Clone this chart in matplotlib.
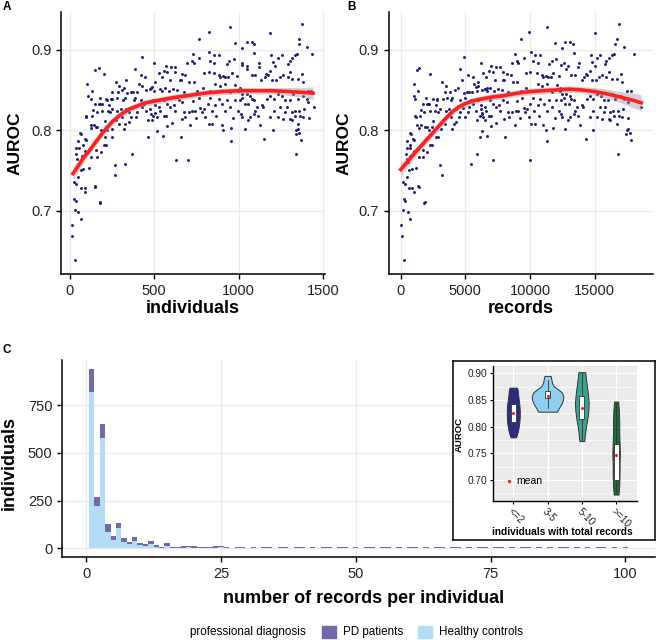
# -*- coding: utf-8 -*-
"""
AUROC vs training size (A, B) and records-per-individual histogram (C)
"""
import matplotlib.pyplot as plt
from matplotlib.patches import Patch
import numpy as np

plt.rcParams.update({'font.family': ['Liberation Sans', 'DejaVu Sans'],
                     'axes.linewidth': 1.1,
                     'xtick.major.width': 1.0,
                     'ytick.major.width': 1.0,
                     'xtick.major.size': 3.5,
                     'ytick.major.size': 3.5})

# ------- data: (individuals, records, AUROC) per model
models = [
    (32, 250, 0.638), (16, 60, 0.668), (16, 40, 0.682), (65, 750, 0.690), (52, 600, 0.698),
    (32, 150, 0.701), (26, 250, 0.714), (36, 300, 0.712), (178, 1850, 0.711), (178, 1800, 0.709),
    (26, 200, 0.735), (40, 350, 0.733), (65, 650, 0.728), (91, 900, 0.728), (89, 1000, 0.723),
    (150, 1350, 0.731), (150, 1450, 0.729), (52, 450, 0.742), (115, 1200, 0.753), (268, 3200, 0.744),
    (268, 3000, 0.757), (327, 5450, 0.758), (371, 5900, 0.770), (40, 500, 0.778), (56, 700, 0.778),
    (46, 450, 0.764), (59, 600, 0.760), (65, 650, 0.750), (79, 850, 0.752), (89, 1000, 0.774),
    (95, 1050, 0.788), (124, 1400, 0.767), (154, 1700, 0.775), (160, 1750, 0.767), (118, 1300, 0.777),
    (65, 800, 0.795), (59, 700, 0.796), (91, 950, 0.789), (124, 1250, 0.806), (128, 1400, 0.803),
    (144, 1550, 0.807), (154, 1900, 0.804), (164, 2000, 0.804), (99, 1100, 0.817), (130, 1500, 0.817),
    (148, 1700, 0.833), (180, 2100, 0.832), (190, 2300, 0.824), (209, 2500, 0.811), (213, 2400, 0.804),
    (188, 2200, 0.800), (219, 2600, 0.800), (209, 2700, 0.792), (203, 2250, 0.781), (217, 2450, 0.781),
    (188, 2000, 0.773), (249, 2900, 0.791), (249, 3100, 0.802), (223, 2800, 0.838), (227, 2650, 0.824),
    (253, 3000, 0.826), (247, 3250, 0.839), (249, 3400, 0.848), (282, 3600, 0.840), (272, 3300, 0.812),
    (292, 3450, 0.808), (282, 3500, 0.824), (302, 3700, 0.826), (308, 3900, 0.816), (321, 4000, 0.802),
    (327, 4100, 0.808), (351, 4300, 0.810), (361, 4500, 0.816), (331, 4250, 0.826), (351, 4600, 0.822),
    (371, 4800, 0.828), (391, 5000, 0.816), (400, 5200, 0.822), (420, 5400, 0.837), (440, 5600, 0.833),
    (466, 5900, 0.812), (466, 6100, 0.791), (430, 5300, 0.829), (450, 5800, 0.824), (473, 6200, 0.826),
    (479, 6300, 0.820), (485, 6500, 0.812), (276, 3200, 0.860), (292, 3500, 0.855), (288, 3800, 0.847),
    (308, 4200, 0.850), (321, 4400, 0.853), (331, 4700, 0.862), (341, 4900, 0.846), (361, 5100, 0.847),
    (377, 5300, 0.847), (381, 4600, 0.838), (387, 5000, 0.840), (327, 4000, 0.840), (313, 3900, 0.838),
    (400, 5500, 0.848), (410, 5700, 0.857), (430, 6000, 0.855), (450, 6300, 0.850), (473, 6500, 0.851),
    (479, 6700, 0.853), (426, 4900, 0.891), (387, 4600, 0.876), (424, 5200, 0.868), (446, 5600, 0.866),
    (174, 1450, 0.877), (148, 1250, 0.875), (203, 2300, 0.870), (105, 1000, 0.857), (130, 1350, 0.849),
    (111, 1050, 0.842), (124, 1100, 0.839), (178, 1950, 0.840), (174, 2050, 0.833), (213, 2500, 0.839),
    (233, 2750, 0.831), (237, 2900, 0.822), (253, 2800, 0.839), (99, 1150, 0.816), (138, 1600, 0.825),
    (160, 1800, 0.822), (190, 2150, 0.832), (71, 700, 0.768), (40, 400, 0.770), (79, 750, 0.782),
    (52, 500, 0.786),
    (763, 9300, 0.914), (823, 9900, 0.922), (951, 11300, 0.928), (980, 11900, 0.909), (497, 6200, 0.884),
    (572, 7000, 0.880), (600, 7400, 0.879), (625, 7700, 0.878), (556, 6800, 0.873), (527, 6400, 0.871),
    (546, 6600, 0.866), (576, 7100, 0.872), (596, 7300, 0.862), (625, 7900, 0.872), (665, 8200, 0.870),
    (680, 8500, 0.869), (655, 7900, 0.862), (694, 8600, 0.884), (724, 9000, 0.886), (734, 9100, 0.883),
    (763, 9500, 0.890), (730, 8800, 0.895), (823, 10100, 0.897), (852, 10400, 0.893), (882, 10800, 0.893),
    (832, 10200, 0.886), (852, 10600, 0.883), (931, 11500, 0.882), (941, 11700, 0.886), (970, 12000, 0.888),
    (793, 9700, 0.871), (823, 10000, 0.872), (852, 10500, 0.871), (882, 10900, 0.869), (892, 11000, 0.866),
    (907, 11200, 0.867), (921, 11400, 0.866), (937, 11600, 0.866), (961, 11800, 0.871), (990, 12200, 0.867),
    (487, 5800, 0.854), (507, 6000, 0.860), (533, 6500, 0.851), (547, 6700, 0.849), (566, 6900, 0.853),
    (586, 7200, 0.849), (612, 7500, 0.851), (635, 7800, 0.850), (659, 8000, 0.862), (675, 8300, 0.847),
    (704, 8700, 0.860), (734, 9000, 0.860), (754, 9300, 0.849), (789, 9700, 0.853), (829, 10200, 0.849),
    (862, 10600, 0.858), (892, 10900, 0.855), (921, 11300, 0.858), (951, 11700, 0.847), (980, 12100, 0.856),
    (994, 12300, 0.849), (493, 6000, 0.837), (507, 6200, 0.831), (527, 6500, 0.829), (537, 6600, 0.824),
    (507, 6300, 0.821), (493, 6100, 0.817), (517, 6400, 0.816), (556, 6800, 0.818), (572, 7000, 0.817),
    (560, 6900, 0.838), (576, 7100, 0.833), (596, 7400, 0.829), (619, 7600, 0.831), (625, 7700, 0.824),
    (645, 7900, 0.837), (665, 8200, 0.835), (675, 8300, 0.822), (685, 8400, 0.816), (704, 8600, 0.822),
    (724, 8900, 0.824), (744, 9100, 0.824), (730, 9000, 0.836), (763, 9400, 0.840), (773, 9500, 0.827),
    (783, 9600, 0.822), (793, 9800, 0.826), (803, 9900, 0.816), (817, 10000, 0.832), (832, 10200, 0.840),
    (842, 10300, 0.824), (862, 10600, 0.831), (882, 10800, 0.839), (901, 11100, 0.833), (921, 11300, 0.824),
    (931, 11500, 0.837), (951, 11700, 0.829), (967, 11900, 0.815), (980, 12000, 0.838), (994, 12200, 0.824),
    (868, 10700, 0.817), (823, 10100, 0.808), (842, 10400, 0.808), (901, 11000, 0.806), (907, 11200, 0.800),
    (955, 11800, 0.803), (957, 11300, 0.786), (517, 6300, 0.799), (552, 6700, 0.793), (576, 7000, 0.805),
    (606, 7400, 0.809), (659, 8100, 0.791), (665, 8000, 0.814), (714, 8800, 0.806), (631, 7150, 0.763),
    (698, 10000, 0.763), (750, 9200, 0.815), (497, 5900, 0.849),
    (1377, 16900, 0.932), (1186, 15000, 0.921), (1357, 16700, 0.914), (1357, 16600, 0.907), (1402, 17300, 0.903),
    (1048, 12700, 0.910), (1077, 13100, 0.910), (1093, 13300, 0.907), (1022, 12500, 0.902), (1093, 13400, 0.896),
    (1432, 18000, 0.895), (1343, 16500, 0.895), (1333, 16300, 0.893), (1318, 16100, 0.890), (1304, 15900, 0.886),
    (1290, 15800, 0.882), (1255, 15400, 0.893), (1235, 15200, 0.890), (1191, 14700, 0.893), (1205, 14800, 0.885),
    (1215, 15000, 0.880), (1022, 12600, 0.884), (1022, 12400, 0.881), (1048, 12900, 0.880), (1120, 13800, 0.883),
    (1120, 13700, 0.878), (1160, 14300, 0.870), (1156, 14200, 0.866), (1172, 14400, 0.868), (1048, 12800, 0.876),
    (1077, 13200, 0.869), (1097, 13500, 0.869), (1132, 14000, 0.862), (1186, 14600, 0.874), (1199, 14800, 0.862),
    (1219, 15100, 0.862), (1245, 15300, 0.866), (1264, 15600, 0.869), (1290, 15900, 0.866), (1304, 16100, 0.872),
    (1318, 16300, 0.864), (1353, 16700, 0.864), (1373, 17000, 0.870), (1383, 17100, 0.860), (1408, 17500, 0.849),
    (1428, 17800, 0.849), (1008, 12300, 0.852), (1022, 12500, 0.845), (1022, 12600, 0.840), (1008, 12400, 0.837),
    (1048, 12800, 0.845), (1067, 13100, 0.843), (1081, 13200, 0.839), (1093, 13400, 0.837), (1057, 13000, 0.833),
    (1038, 12700, 0.833), (1107, 13600, 0.829), (1136, 14000, 0.831), (1146, 14100, 0.829), (1166, 14400, 0.839),
    (1186, 14600, 0.843), (1211, 14900, 0.839), (1235, 15200, 0.845), (1255, 15500, 0.842), (1274, 15700, 0.838),
    (1304, 16000, 0.837), (1323, 16300, 0.845), (1353, 16600, 0.839), (1383, 17000, 0.843), (1402, 17300, 0.839),
    (1412, 17600, 0.835), (1448, 18600, 0.829), (1014, 12400, 0.820), (1022, 12500, 0.816), (1067, 13100, 0.816),
    (1057, 12900, 0.812), (1097, 13500, 0.824), (1093, 13400, 0.820), (1116, 13700, 0.817), (1126, 13900, 0.806),
    (1186, 14600, 0.816), (1211, 14900, 0.824), (1235, 15200, 0.816), (1245, 15400, 0.829), (1264, 15600, 0.814),
    (1284, 15800, 0.829), (1304, 16100, 0.814), (1314, 16200, 0.822), (1333, 16400, 0.824), (1333, 16500, 0.818),
    (1359, 16800, 0.824), (1363, 16900, 0.818), (1353, 16700, 0.808), (1383, 17100, 0.816), (1416, 17600, 0.815),
    (1388, 17200, 0.826), (1038, 12700, 0.802), (1205, 14900, 0.800), (1152, 14300, 0.789), (1337, 17500, 0.800),
    (1349, 17600, 0.802), (1337, 17400, 0.795), (1357, 17700, 0.796), (1367, 17800, 0.788), (1337, 16800, 0.770),
    (1314, 16200, 0.812), (1274, 15700, 0.822),
]

# smoothed fits (loess) with confidence half-width
fitA_x = [20, 50, 80, 115, 150, 200, 250, 300, 350, 400, 450, 500, 600, 700, 800,
          900, 1000, 1100, 1200, 1300, 1380, 1440]
fitA_y = [0.746, 0.755, 0.765, 0.774, 0.784, 0.798, 0.810, 0.819, 0.826, 0.830, 0.834,
          0.836, 0.840, 0.843, 0.846, 0.848, 0.849, 0.849, 0.849, 0.848, 0.847, 0.846]
fitA_se = [0.008, 0.007, 0.006, 0.005, 0.005, 0.005, 0.005, 0.004, 0.004, 0.004, 0.004,
           0.004, 0.004, 0.004, 0.004, 0.004, 0.004, 0.004, 0.004, 0.005, 0.006, 0.008]
fitB_x = [0, 500, 1000, 1500, 2000, 2500, 3000, 3500, 4000, 4500, 5000, 5500, 6000, 7000,
          8000, 9000, 10000, 11000, 12000, 13000, 14000, 15000, 16000, 17000, 18000, 18600]
fitB_y = [0.751, 0.760, 0.770, 0.779, 0.788, 0.797, 0.806, 0.815, 0.823, 0.829, 0.833, 0.836,
          0.838, 0.841, 0.843, 0.846, 0.848, 0.849, 0.850, 0.851, 0.850, 0.848, 0.845, 0.841,
          0.837, 0.834]
fitB_se = [0.008, 0.007, 0.006, 0.005, 0.005, 0.005, 0.005, 0.004, 0.004, 0.004, 0.004, 0.004,
           0.004, 0.004, 0.004, 0.004, 0.004, 0.004, 0.004, 0.004, 0.004, 0.005, 0.006, 0.007,
           0.009, 0.010]

# histogram: records per individual (1..100)
n_records = list(range(1, 101))
healthy = [820, 223, 576, 87, 44, 105, 35, 21, 40, 16, 12, 23, 9, 3, 14, 3, 3, 4, 5, 4, 3, 3, 4, 4, 5,
           2, 0, 2, 2, 0, 2, 0, 2, 1, 0, 2, 1, 0, 2, 1, 0, 2, 0, 1, 1, 0, 2, 1, 0, 2,
           0, 1, 1, 0, 2, 1, 0, 1, 0, 1, 1, 0, 2, 0, 1, 1, 0, 1, 2, 0, 1, 0, 1, 1, 0,
           1, 2, 0, 1, 0, 1, 1, 0, 1, 0, 1, 0, 1, 1, 0, 1, 0, 1, 0, 1, 1, 0, 1, 0, 1]
pd_patients = [120, 47, 78, 39, 21, 29, 17, 14, 19, 10, 9, 15, 7, 6, 12, 5, 6, 6, 7, 6, 5, 6, 5, 7, 6,
               6, 0, 5, 6, 0, 5, 0, 6, 5, 0, 5, 5, 0, 5, 6, 0, 5, 0, 5, 5,
               0, 5, 5, 0, 6, 0, 5, 5, 0, 5, 6, 0, 5, 0, 5, 5, 0, 6, 0, 5,
               5, 0, 5, 6, 0, 5, 0, 5, 5, 0, 5, 6, 0, 5, 0, 5, 5, 0, 5, 0,
               5, 0, 5, 5, 0, 5, 0, 5, 0, 5, 5, 0, 5, 0, 5]

# inset: violin profiles (AUROC level, half width) per group, box stats
groups = ['<=2', '3-5', '5-10', '>=10']
group_colors = ['#2c2b8c', '#8ecff0', '#3aa490', '#1d6a3d']
violin_y = [[0.780, 0.790, 0.800, 0.810, 0.820, 0.830, 0.840, 0.850, 0.860, 0.868, 0.873],
            [0.828, 0.835, 0.842, 0.850, 0.857, 0.864, 0.870, 0.876, 0.882, 0.889, 0.895],
            [0.773, 0.785, 0.800, 0.815, 0.830, 0.845, 0.860, 0.875, 0.890, 0.902],
            [0.673, 0.690, 0.710, 0.730, 0.750, 0.770, 0.790, 0.810, 0.830, 0.847]]
violin_w = [[0.08, 0.13, 0.16, 0.18, 0.19, 0.19, 0.18, 0.16, 0.14, 0.13, 0.11],
            [0.27, 0.33, 0.40, 0.45, 0.46, 0.42, 0.30, 0.18, 0.13, 0.11, 0.09],
            [0.07, 0.09, 0.12, 0.16, 0.19, 0.20, 0.18, 0.15, 0.12, 0.10],
            [0.07, 0.09, 0.10, 0.10, 0.11, 0.10, 0.09, 0.09, 0.08, 0.06]]
box_q1 = [0.808, 0.853, 0.815, 0.700]
box_q3 = [0.843, 0.867, 0.858, 0.768]
whisk_lo = [0.781, 0.835, 0.775, 0.675]
whisk_hi = [0.872, 0.888, 0.900, 0.845]
group_mean = [0.826, 0.858, 0.835, 0.747]

navy = '#1c1c78'
pd_col = '#7468ad'
hc_col = '#b3ddf6'
grid_col = '#ebebeb'
tick_col = '#222222'

ind, rec, auc = map(np.array, zip(*models))

fig = plt.figure(figsize=(6.62, 6.40), dpi=100)
W, H = 662.0, 640.0


def style(ax):
    for s in ['top', 'right']:
        ax.spines[s].set_visible(False)
    ax.grid(True, color=grid_col, linewidth=1.0)
    ax.set_axisbelow(True)
    ax.tick_params(labelsize=10.5, colors='black', labelcolor=tick_col)


# ------ panel A
axA = fig.add_axes([61 / W, 1 - 274 / H, 264 / W, 262 / H])
axA.scatter(ind, auc, s=4.5, color=navy, linewidths=0)
axA.fill_between(fitA_x, np.array(fitA_y) - fitA_se, np.array(fitA_y) + fitA_se,
                 color='#999999', alpha=0.45, linewidth=0)
axA.plot(fitA_x, fitA_y, color='#ff1f1f', linewidth=2.6)
axA.set_xlim(-51, 1511)
axA.set_ylim(0.621, 0.947)
axA.set_xticks([0, 500, 1000, 1500])
axA.set_yticks([0.7, 0.8, 0.9])
axA.set_yticklabels(['0.7', '0.8', '0.9'])
style(axA)
axA.set_xlabel('individuals', fontsize=13, fontweight='bold')
axA.xaxis.set_label_coords(0.5, -0.10)
axA.set_ylabel('AUROC', fontsize=12.5, fontweight='bold')
axA.yaxis.set_label_coords(-0.145, 0.5)

# ------ panel B
axB = fig.add_axes([388.7 / W, 1 - 274 / H, 264.6 / W, 262 / H])
axB.scatter(rec, auc, s=4.5, color=navy, linewidths=0)
axB.fill_between(fitB_x, np.array(fitB_y) - fitB_se, np.array(fitB_y) + fitB_se,
                 color='#999999', alpha=0.45, linewidth=0)
axB.plot(fitB_x, fitB_y, color='#ff1f1f', linewidth=2.6)
axB.set_xlim(-930, 19530)
axB.set_ylim(0.621, 0.947)
axB.set_xticks([0, 5000, 10000, 15000])
axB.set_yticks([0.7, 0.8, 0.9])
axB.set_yticklabels(['0.7', '0.8', '0.9'])
style(axB)
axB.set_xlabel('records', fontsize=13, fontweight='bold')
axB.xaxis.set_label_coords(0.5, -0.10)
axB.set_ylabel('AUROC', fontsize=12.5, fontweight='bold')
axB.yaxis.set_label_coords(-0.139, 0.5)

# ------ panel C
axC = fig.add_axes([62 / W, 1 - 557.3 / H, 593 / W, 197.3 / H])
axC.bar(n_records, healthy, width=1.0, color=hc_col, linewidth=0)
axC.bar(n_records, pd_patients, bottom=healthy, width=1.0, color=pd_col, linewidth=0)
axC.set_xlim(-4.5, 105.5)
axC.set_ylim(-47, 987)
axC.set_xticks([0, 25, 50, 75, 100])
axC.set_yticks([0, 250, 500, 750])
style(axC)
axC.set_xlabel('number of records per individual', fontsize=13, fontweight='bold')
axC.xaxis.set_label_coords(0.508, -0.165)
axC.set_ylabel('individuals', fontsize=13, fontweight='bold')
axC.yaxis.set_label_coords(-0.074, 0.48)

# legend
fig.text(190 / W, 1 - 632 / H, 'professional diagnosis', fontsize=8.4, va='center', ha='left')
handles = [Patch(color=pd_col, label='PD patients'), Patch(color=hc_col, label='Healthy controls')]
fig.legend(handles=handles, ncol=2, frameon=False, fontsize=8.4,
           loc='center left', bbox_to_anchor=(322 / W, 1 - 632 / H),
           handlelength=1.2, handleheight=1.2, handletextpad=0.6, columnspacing=1.3,
           borderaxespad=0, borderpad=0)

# ------ inset box
axBox = fig.add_axes([452.7 / W, 1 - 540 / H, 202.3 / W, 179 / H])
axBox.set_xticks([])
axBox.set_yticks([])
for s in axBox.spines.values():
    s.set_linewidth(1.1)
axBox.set_facecolor('white')

axI = fig.add_axes([492.7 / W, 1 - 500.7 / H, 144 / W, 134.7 / H])
axI.set_facecolor(grid_col)
axI.set_xlim(0.4, 4.6)
axI.set_ylim(0.6615, 0.9135)
axI.set_yticks([0.70, 0.75, 0.80, 0.85, 0.90])
axI.set_yticks([0.675, 0.725, 0.775, 0.825, 0.875], minor=True)
axI.set_yticklabels(['0.70', '0.75', '0.80', '0.85', '0.90'])
axI.set_xticks([1, 2, 3, 4])
axI.set_xticklabels(groups, rotation=-45, ha='left', va='top', rotation_mode='anchor')
axI.grid(True, which='major', color='white', linewidth=0.9)
axI.grid(True, which='minor', axis='y', color='white', linewidth=0.45)
axI.set_axisbelow(True)
for s in ['top', 'right']:
    axI.spines[s].set_visible(False)
for s in ['left', 'bottom']:
    axI.spines[s].set_linewidth(1.0)
axI.tick_params(which='major', labelsize=7.3, length=2.5, width=0.8, pad=1.5,
                labelcolor=tick_col)
axI.tick_params(which='minor', length=0)

for i in range(4):
    pos = i + 1
    ys = np.array(violin_y[i])
    ws = np.array(violin_w[i])
    axI.fill_betweenx(ys, pos - ws, pos + ws, facecolor=group_colors[i],
                      edgecolor='#333333', linewidth=0.7, zorder=2)
    axI.plot([pos, pos], [whisk_lo[i], whisk_hi[i]], color='#333333', linewidth=0.6, zorder=3)
    axI.add_patch(plt.Rectangle((pos - 0.07, box_q1[i]), 0.14, box_q3[i] - box_q1[i],
                                facecolor='white', edgecolor='#333333', linewidth=0.6, zorder=4))
    axI.scatter([pos], [group_mean[i]], s=5, color='#ff1a1a', linewidths=0, zorder=5)

axI.scatter([0.88], [0.698], s=6, color='#ff1a1a', linewidths=0, zorder=5)
axI.text(1.1, 0.698, 'mean', fontsize=7.5, va='center', ha='left')
axI.set_xlabel('individuals with total records', fontsize=7.3, fontweight='bold', va='center')
axI.xaxis.set_label_coords(0.48, -0.23)
axI.set_ylabel('AUROC', fontsize=6.8, fontweight='bold')
axI.yaxis.set_label_coords(-0.20, 0.49)

# ------ panel letters
fig.text(7 / W, 1 - 7 / H, 'A', fontsize=8.5, fontweight='bold', va='center', ha='center')
fig.text(352 / W, 1 - 7 / H, 'B', fontsize=8.5, fontweight='bold', va='center', ha='center')
fig.text(7 / W, 1 - 350 / H, 'C', fontsize=8.5, fontweight='bold', va='center', ha='center')

plt.savefig('out.png', dpi=100)
